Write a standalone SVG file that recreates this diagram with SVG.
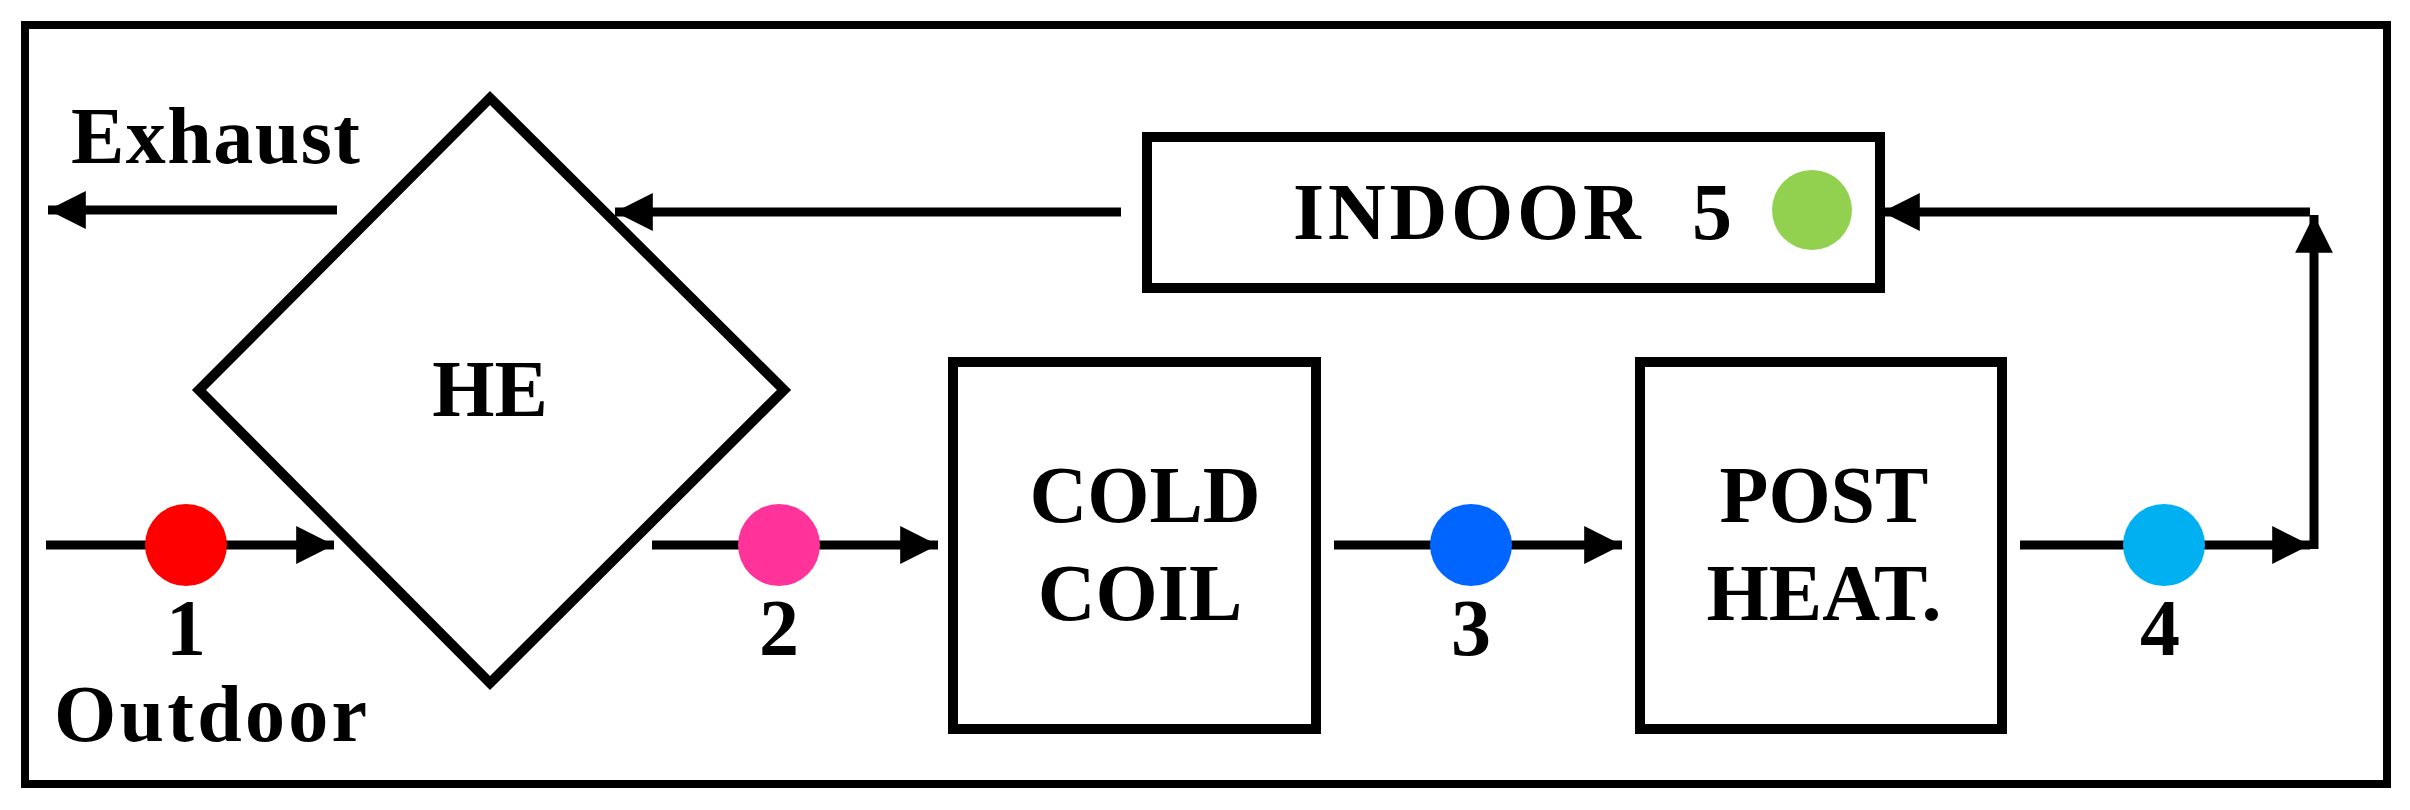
<svg xmlns="http://www.w3.org/2000/svg" width="2410" height="810" viewBox="0 0 2410 810">
<defs>
<style>
text{font-family:"Liberation Serif","DejaVu Serif",serif;font-weight:bold;font-size:80px;fill:#000}
.c{text-anchor:middle}
.box{fill:none;stroke:#000;stroke-width:10}
.ln{stroke:#000;stroke-width:9;fill:none}
</style>
<marker id="ah" viewBox="0 0 10 10" refX="10" refY="5" markerWidth="4.2" markerHeight="4.2" orient="auto"><path d="M0,0L10,5L0,10Z" fill="#000"/></marker>
</defs>
<rect x="0" y="0" width="2410" height="810" fill="#fff"/>
<rect x="25" y="25" width="2362" height="759" fill="none" stroke="#000" stroke-width="8"/>
<g id="connectors">
<line class="ln" x1="337" y1="210" x2="48" y2="210" marker-end="url(#ah)"/>
<line class="ln" x1="1121" y1="212" x2="615" y2="212" marker-end="url(#ah)"/>
<line class="ln" x1="2310" y1="212" x2="1882" y2="212" marker-end="url(#ah)"/>
<line class="ln" x1="2314" y1="549" x2="2314" y2="215" marker-end="url(#ah)"/>
<line class="ln" x1="46" y1="545" x2="334" y2="545" marker-end="url(#ah)"/>
<line class="ln" x1="652" y1="545" x2="938" y2="545" marker-end="url(#ah)"/>
<line class="ln" x1="1334" y1="545" x2="1622" y2="545" marker-end="url(#ah)"/>
<line class="ln" x1="2020" y1="545" x2="2310" y2="545" marker-end="url(#ah)"/>
</g>
<g id="he"><polygon class="box" points="490,98 784,390 490,683 199,390"/><text class="c" x="490" y="416">HE</text></g>
<g id="indoor"><rect class="box" x="1147" y="137" width="733" height="151"/><text x="1293" y="239" textLength="439" xml:space="preserve">INDOOR  5</text><circle cx="1812" cy="210" r="40" fill="#92d050"/></g>
<g id="coldcoil"><rect class="box" x="953" y="362" width="363" height="367"/><text class="c" x="1145" y="522">COLD</text><text class="c" x="1140" y="620">COIL</text></g>
<g id="postheat"><rect class="box" x="1640" y="362" width="362" height="367"/><text class="c" x="1824" y="522">POST</text><text class="c" x="1824" y="620">HEAT.</text></g>
<g id="labels">
<text x="71" y="163" textLength="289">Exhaust</text>
<text x="54" y="741" textLength="313">Outdoor</text>
<circle cx="186" cy="545" r="41" fill="#ff0000"/><text class="c" x="186" y="655">1</text>
<circle cx="779" cy="545" r="41" fill="#ff3399"/><text class="c" x="779" y="655">2</text>
<circle cx="1471" cy="545" r="41" fill="#0066ff"/><text class="c" x="1471" y="655">3</text>
<circle cx="2164" cy="545" r="41" fill="#00b0f0"/><text class="c" x="2160" y="655">4</text>
</g>
</svg>
